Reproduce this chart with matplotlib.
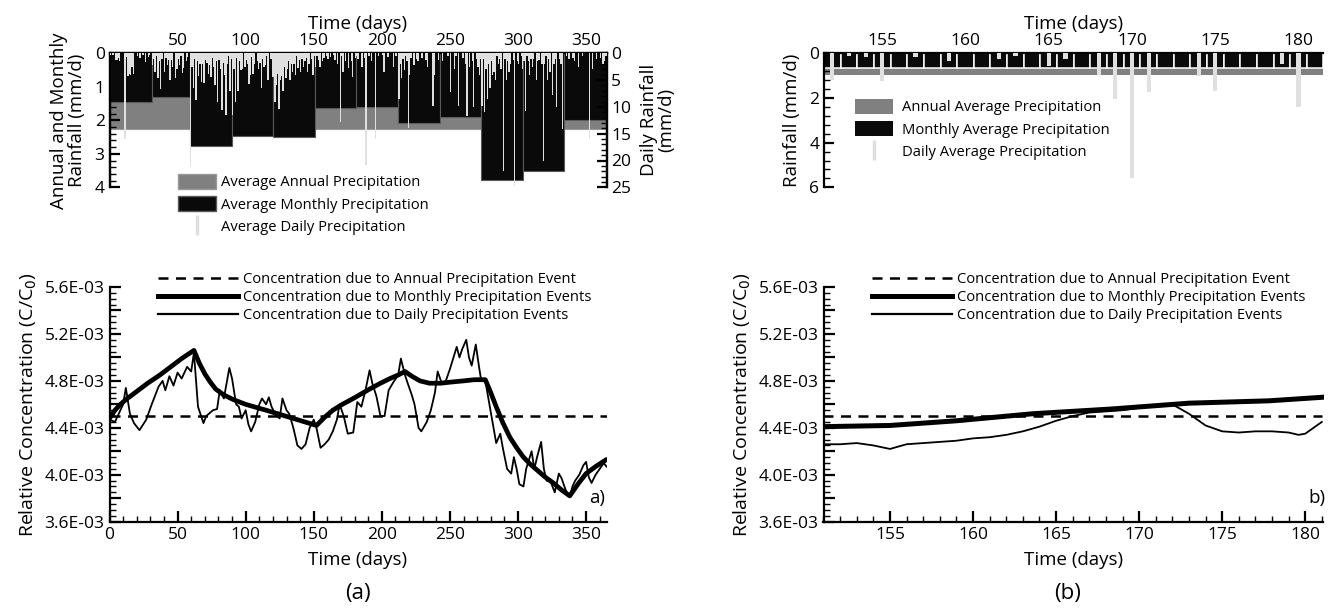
import matplotlib
matplotlib.use("Agg")
import matplotlib.pyplot as plt
from matplotlib.ticker import MultipleLocator, FuncFormatter
from matplotlib.patches import Patch
from matplotlib.lines import Line2D

plt.rcParams['font.family'] = ['Open Sans', 'DejaVu Sans']

# ---------------- (a) rainfall over the year ----------------
month_edges = [0, 31, 59, 90, 120, 151, 181, 212, 243, 273, 304, 334, 365]
monthly_rain = [1.44, 1.31, 2.76, 2.46, 2.49, 1.64, 1.61, 2.09, 1.91, 3.79, 3.50, 1.99]
annual_rain = 2.26

daily_jan = [0.3, 0, 0.4, 0, 1.2, 1.3, 0.8, 1.4, 0, 0, 0, 16.0, 0.6, 4.2, 3.8, 4.1, 2.5, 3.9, 0, 0,
             0.5, 0, 0.9, 0, 0.4, 0, 1.6, 0, 0.6, 0.3, 0]
daily_feb = [2.2, 1.0, 3.5, 0.5, 4.7, 1.5, 6.6, 1.0, 0, 3.5, 0.8, 2.2, 1.2, 5.0, 1.2, 2.5, 0, 4.7, 3.0, 1.0,
             2.2, 0.5, 3.7, 2.8, 0, 1.5, 0.6, 0]
daily_mar = [21.0, 2.5, 6.5, 1.0, 8.7, 1.5, 4.3, 2.0, 5.3, 2.0, 5.6, 1.2, 1.8, 3.8, 2.2, 4.5, 0.8, 2.5, 6.0, 1.5,
             9.0, 1.2, 3.0, 10.6, 1.8, 4.0, 11.5, 2.0, 0.5, 7.0, 1.0]
daily_apr = [11.5, 3.0, 9.0, 0.8, 7.0, 1.5, 3.2, 3.0, 0, 2.5, 1.2, 2.0, 5.8, 4.0, 0.6, 3.8, 2.0, 0, 1.5, 3.0,
             1.8, 6.4, 1.0, 2.5, 2.2, 0.5, 5.0, 0, 1.0, 4.5]
daily_may = [4.5, 9.0, 6.0, 3.8, 10.3, 5.0, 4.2, 7.0, 2.5, 4.6, 3.0, 1.5, 5.0, 2.0, 3.5, 2.0, 4.0, 0.5, 2.8, 1.2,
             3.5, 1.0, 2.5, 1.5, 0.8, 3.5, 2.0, 0, 1.0, 4.0, 0.5]
daily_jun = [2.5, 0.5, 1.2, 2.6, 0, 1.5, 0.8, 0, 0.5, 1.0, 0, 0.6, 0, 0.4, 1.2, 0, 2.0, 0, 12.8, 0.5,
             3.5, 0, 1.5, 0, 2.8, 0, 1.5, 4.5, 0, 0.8]
daily_jul = [0.5, 1.0, 0, 0, 2.5, 0, 0.8, 20.8, 0, 0.5, 0, 1.5, 0, 0, 16.0, 0, 0.5, 0, 0, 0.4,
             3.5, 0, 0, 0.6, 0, 0, 0, 2.5, 0, 0.5, 0]
daily_aug = [8.5, 2.0, 4.7, 1.0, 3.2, 0.5, 1.5, 13.9, 4.0, 0.8, 0, 2.2, 0, 1.0, 1.5, 0, 0, 0.8, 0, 0,
             1.2, 2.5, 0, 0, 0, 9.8, 4.0, 0, 0, 1.2, 0]
daily_sep = [0, 1.5, 0, 0, 0, 0.5, 0, 7.3, 0, 0, 3.0, 0.5, 0, 9.8, 0, 0, 0.8, 0, 2.0, 11.7,
             0, 2.5, 0, 1.5, 10.0, 0, 1.0, 2.5, 4.0, 1.0]
daily_oct = [9.8, 1.0, 11.0, 3.0, 8.5, 2.0, 6.5, 1.5, 4.0, 3.5, 5.0, 0.5, 2.0, 1.0, 3.0, 0, 22.0, 1.0, 5.0, 1.5,
             3.5, 2.0, 0, 1.2, 24.7, 0, 1.5, 2.0, 0, 0.5, 3.0]
daily_nov = [1.5, 10.8, 0.5, 1.5, 4.0, 1.0, 2.5, 1.0, 0, 5.0, 1.5, 1.2, 0, 2.0, 20.0, 2.0, 0.5, 5.0, 1.0, 3.5,
             0, 7.8, 2.0, 1.0, 10.0, 0, 1.0, 2.0, 14.2, 0]
daily_dec = [0, 0.5, 0, 1.0, 0, 0, 0.8, 1.5, 0, 0, 2.5, 0, 0, 0.5, 0, 0, 0, 0, 16.0, 0,
             3.0, 0, 0, 1.0, 0, 0, 0.8, 0, 2.0, 1.5, 0.5]

# ---------------- (a) concentration over the year (x 1E-03) ----------------
conc_daily_days = [0, 4, 10, 12, 15, 18, 22, 27, 31, 36, 39, 41, 44, 47, 50, 53, 57, 60, 62, 65,
                   69, 71, 73, 76, 79, 81, 84, 86, 88, 90, 93, 95, 97, 100, 102, 104, 107, 110, 112, 115,
                   117, 119, 122, 125, 127, 130, 132, 135, 138, 141, 144, 147, 150, 152, 155, 158, 161, 164, 167, 169,
                   172, 175, 179, 182, 185, 188, 191, 193, 196, 199, 202, 205, 208, 212, 214, 217, 219, 222, 224, 227,
                   229, 233, 236, 239, 241, 244, 247, 250, 255, 257, 259, 262, 264, 266, 269, 271, 273, 276, 279, 282,
                   284, 287, 289, 292, 295, 297, 299, 301, 304, 306, 310, 312, 314, 317, 319, 321, 324, 327, 330, 332,
                   335, 338, 340, 342, 345, 348, 350, 352, 354, 357, 360, 363, 365]
conc_daily = [4.47, 4.45, 4.60, 4.74, 4.52, 4.44, 4.38, 4.47, 4.60, 4.75, 4.80, 4.72, 4.84, 4.76, 4.87, 4.82, 4.92, 4.88, 5.04, 4.58,
              4.44, 4.50, 4.52, 4.55, 4.56, 4.72, 4.65, 4.78, 4.91, 4.82, 4.60, 4.58, 4.48, 4.55, 4.43, 4.37, 4.45, 4.60, 4.65, 4.60,
              4.66, 4.58, 4.51, 4.48, 4.65, 4.55, 4.52, 4.40, 4.25, 4.22, 4.26, 4.40, 4.47, 4.40, 4.23, 4.26, 4.30, 4.37, 4.47, 4.60,
              4.50, 4.35, 4.36, 4.62, 4.58, 4.72, 4.89, 4.78, 4.67, 4.50, 4.50, 4.72, 4.78, 4.85, 4.99, 4.85, 4.78, 4.68, 4.60, 4.40,
              4.37, 4.45, 4.55, 4.70, 4.88, 4.78, 4.80, 4.90, 5.09, 5.00, 5.07, 5.15, 5.00, 4.93, 5.11, 4.95, 4.80, 4.80, 4.60, 4.40,
              4.27, 4.35, 4.22, 4.05, 4.01, 4.15, 4.05, 3.92, 3.90, 4.05, 4.20, 4.05, 4.15, 4.28, 4.05, 3.95, 3.94, 3.85, 4.01, 3.97,
              3.87, 3.81, 3.90, 3.95, 4.00, 4.08, 4.11, 3.98, 3.93, 4.00, 4.05, 4.10, 4.07]

conc_monthly_days = [0, 4, 8, 12, 20, 28, 37, 45, 53, 62, 66, 70, 74, 78, 84, 91, 100, 115, 135, 152,
                     158, 164, 171, 179, 191, 199, 206, 212, 217, 222, 228, 235, 243, 251, 260, 268, 276, 280, 284, 289,
                     294, 299, 304, 309, 314, 320, 326, 332, 338, 344, 350, 357, 365]
conc_monthly = [4.48, 4.55, 4.60, 4.64, 4.71, 4.78, 4.85, 4.92, 4.99, 5.06, 4.95, 4.86, 4.79, 4.73, 4.68, 4.64, 4.60, 4.55, 4.48, 4.42,
                4.49, 4.55, 4.60, 4.65, 4.73, 4.78, 4.82, 4.85, 4.88, 4.84, 4.80, 4.78, 4.78, 4.79, 4.80, 4.81, 4.81, 4.70, 4.58, 4.44,
                4.32, 4.23, 4.15, 4.09, 4.04, 3.98, 3.93, 3.87, 3.82, 3.92, 4.01, 4.07, 4.13]
conc_annual = 4.50

# ---------------- (b) days 151-181 ----------------
days_b = list(range(151, 182))
rain_b_daily = [0, 1.2, 0.1, 0.15, 1.25, 0, 0.15, 0, 0.35, 0, 0, 0.25, 0.1, 0, 0.55, 0.25, 0, 0.97, 2.05, 5.6,
                1.75, 0, 0, 1.0, 1.7, 0, 0, 0, 0.5, 2.4, 0]
rain_b_monthly = 0.68
rain_b_annual = 0.97

conc_b_daily_days = [151, 152, 153, 154, 155, 156, 157, 158, 159, 160, 161, 162, 163, 164, 165, 166, 167, 168, 169, 170,
                     171, 172, 173, 174, 175, 176, 177, 178, 179, 179.6, 180, 181]
conc_b_daily = [4.26, 4.26, 4.27, 4.25, 4.22, 4.26, 4.27, 4.28, 4.29, 4.31, 4.32, 4.34, 4.37, 4.41, 4.46, 4.50, 4.53, 4.54, 4.55, 4.57,
                4.59, 4.60, 4.52, 4.42, 4.37, 4.36, 4.37, 4.37, 4.36, 4.34, 4.35, 4.45]
conc_b_monthly_days = [151, 155, 159, 163.6, 168.3, 173, 177.8, 181]
conc_b_monthly = [4.41, 4.42, 4.46, 4.52, 4.56, 4.61, 4.63, 4.66]
conc_b_annual = 4.50

# ---------------- styling ----------------
C_ANNUAL = '#808080'
C_MONTH = '#0a0a0a'
C_DAILY = '#e0e0e0'
W, H = 1332, 608
TICK_FS = 12.5
LAB_FS = 13.5
LEG_FS = 10.6


def rect(x0, x1, ytop, ybot):
    return [x0 / W, 1 - ybot / H, (x1 - x0) / W, (ybot - ytop) / H]


fig = plt.figure(figsize=(W / 100, H / 100), dpi=100)

ax_ra = fig.add_axes(rect(109.5, 606.5, 53.3, 187.3))
ax_ca = fig.add_axes(rect(109.5, 606.5, 287, 521.7))
ax_rb = fig.add_axes(rect(824, 1323.5, 53.3, 187.3))
ax_cb = fig.add_axes(rect(823.5, 1323.5, 287, 521.7))


def style_ticks(ax, axis, major, minor, maj_len=7, min_len=4):
    ax.tick_params(axis=axis, which='major', direction='in', length=maj_len, width=1.6, labelsize=TICK_FS)
    ax.tick_params(axis=axis, which='minor', direction='in', length=min_len, width=1.0)
    loc = ax.yaxis if axis == 'y' else ax.xaxis
    loc.set_major_locator(MultipleLocator(major))
    loc.set_minor_locator(MultipleLocator(minor))


# ---- (a) rainfall panel ----
ax_ra.bar(month_edges[-1] / 2, annual_rain, width=month_edges[-1], color=C_ANNUAL,
          edgecolor='#9a9a9a', linewidth=0.8, zorder=1)
centers = [(a + b) / 2 for a, b in zip(month_edges[:-1], month_edges[1:])]
widths = [b - a for a, b in zip(month_edges[:-1], month_edges[1:])]
ax_ra.bar(centers, monthly_rain, width=widths, color=C_MONTH, edgecolor='#5a5a5a', linewidth=0.8, zorder=2)
ax_ra.set_xlim(0, 365)
ax_ra.set_ylim(4, 0)
ax_ra.xaxis.tick_top()
ax_ra.xaxis.set_label_position('top')
ax_ra.set_xticks(range(50, 351, 50))
ax_ra.tick_params(axis='x', length=0, pad=3, labelsize=TICK_FS)
style_ticks(ax_ra, 'y', 1, 0.2)
ax_ra.set_xlabel('Time (days)', fontsize=LAB_FS, labelpad=3)
ax_ra.set_ylabel('Annual and Monthly\nRainfall (mm/d)', fontsize=LAB_FS, linespacing=1.0, labelpad=6)
ax_ra.spines['bottom'].set_visible(False)
for s in ('top', 'left', 'right'):
    ax_ra.spines[s].set_linewidth(1.6)

daily_rain = (daily_jan + daily_feb + daily_mar + daily_apr + daily_may + daily_jun +
              daily_jul + daily_aug + daily_sep + daily_oct + daily_nov + daily_dec)
ax_rd = ax_ra.twinx()
ax_rd.bar([d + 0.5 for d in range(len(daily_rain))], daily_rain, width=1.0, color=C_DAILY, zorder=3)
ax_rd.set_ylim(25, 0)
style_ticks(ax_rd, 'y', 5, 1)
ax_rd.set_ylabel('Daily Rainfall\n(mm/d)', fontsize=LAB_FS, linespacing=1.0, labelpad=6)
ax_rd.spines['bottom'].set_visible(False)
for s in ('top', 'left', 'right'):
    ax_rd.spines[s].set_linewidth(1.6)

fig.legend([Patch(facecolor=C_ANNUAL, edgecolor='#9a9a9a'),
            Patch(facecolor=C_MONTH, edgecolor='#5a5a5a'),
            Line2D([], [], color=C_DAILY, marker='|', markersize=15, markeredgewidth=2.5, linestyle='None')],
           ['Average Annual Precipitation', 'Average Monthly Precipitation', 'Average Daily Precipitation'],
           loc='upper left', bbox_to_anchor=(178 / W, 1 - 174 / H), frameon=False, fontsize=LEG_FS,
           handlelength=2.6, handleheight=1.15, handletextpad=0.35, labelspacing=0.42,
           borderpad=0, borderaxespad=0)

# ---- concentration axes helper ----
def sci_fmt(v, pos):
    k = round(v * 5000)
    return f'{v:.1E}' if k % 2 == 0 else ''


def style_conc(ax):
    ax.set_ylim(3.6e-3, 5.6e-3)
    ax.yaxis.set_major_locator(MultipleLocator(0.2e-3))
    ax.yaxis.set_minor_locator(MultipleLocator(0.05e-3))
    ax.yaxis.set_major_formatter(FuncFormatter(sci_fmt))
    ax.tick_params(which='major', direction='in', length=8, width=1.6, labelsize=TICK_FS)
    ax.tick_params(which='minor', direction='in', length=4, width=1.0)
    ax.spines['top'].set_visible(False)
    ax.spines['right'].set_visible(False)
    for s in ('left', 'bottom'):
        ax.spines[s].set_linewidth(1.6)
    ax.set_xlabel('Time (days)', fontsize=LAB_FS, labelpad=6)
    ax.set_ylabel('Relative Concentration (C/C$_0$)', fontsize=14, labelpad=4)


# ---- (a) concentration panel ----
ax_ca.plot([0, 365], [conc_annual * 1e-3] * 2, color='black', lw=1.8, dashes=(4, 3))
ax_ca.plot(conc_monthly_days, [v * 1e-3 for v in conc_monthly], color='black', lw=3.4,
           solid_joinstyle='round', solid_capstyle='round')
ax_ca.plot(conc_daily_days, [v * 1e-3 for v in conc_daily], color='black', lw=1.3)
ax_ca.set_xlim(0, 365)
ax_ca.xaxis.set_major_locator(MultipleLocator(50))
ax_ca.xaxis.set_minor_locator(MultipleLocator(10))
style_conc(ax_ca)
ax_ca.text(352, 3.80e-3, 'a)', fontsize=13.5, va='center')

conc_handles = [Line2D([], [], color='black', lw=1.8, dashes=(4, 3)),
                Line2D([], [], color='black', lw=3.6),
                Line2D([], [], color='black', lw=1.6)]
conc_labels = ['Concentration due to Annual Precipitation Event',
               'Concentration due to Monthly Precipitation Events',
               'Concentration due to Daily Precipitation Events']
leg_kw = dict(loc='upper left', frameon=False, fontsize=LEG_FS, handlelength=5.4, handletextpad=0.35,
              labelspacing=0.22, borderpad=0, borderaxespad=0)
fig.legend(conc_handles, conc_labels, bbox_to_anchor=(158 / W, 1 - 272 / H), **leg_kw)

# ---- (b) rainfall panel ----
ax_rb.bar((days_b[0] + days_b[-1]) / 2, rain_b_annual, width=len(days_b), color=C_ANNUAL, zorder=1)
ax_rb.bar(days_b, [rain_b_monthly] * len(days_b), width=1.0, color=C_MONTH, edgecolor='white', linewidth=1.1, zorder=2)
ax_rb.bar(days_b, rain_b_daily, width=0.25, color=C_DAILY, zorder=3)
ax_rb.set_xlim(151.5, 181.5)
ax_rb.set_ylim(6, 0)
ax_rb.xaxis.tick_top()
ax_rb.xaxis.set_label_position('top')
ax_rb.set_xticks(range(155, 181, 5))
ax_rb.tick_params(axis='x', length=0, pad=3, labelsize=TICK_FS)
style_ticks(ax_rb, 'y', 2, 0.4)
ax_rb.set_xlabel('Time (days)', fontsize=LAB_FS, labelpad=3)
ax_rb.set_ylabel('Rainfall (mm/d)', fontsize=LAB_FS, labelpad=6)
ax_rb.spines['bottom'].set_visible(False)
ax_rb.spines['right'].set_visible(False)
for s in ('top', 'left'):
    ax_rb.spines[s].set_linewidth(1.6)

fig.legend([Patch(facecolor=C_ANNUAL), Patch(facecolor=C_MONTH),
            Line2D([], [], color=C_DAILY, marker='|', markersize=15, markeredgewidth=2.5, linestyle='None')],
           ['Annual Average Precipitation', 'Monthly Average Precipitation', 'Daily Average Precipitation'],
           loc='upper left', bbox_to_anchor=(855 / W, 1 - 99 / H), frameon=False, fontsize=LEG_FS,
           handlelength=2.6, handleheight=1.15, handletextpad=0.6, labelspacing=0.42,
           borderpad=0, borderaxespad=0)

# ---- (b) concentration panel ----
ax_cb.plot([days_b[0], days_b[-1]], [conc_b_annual * 1e-3] * 2, color='black', lw=1.8, dashes=(4, 3))
ax_cb.plot(conc_b_monthly_days, [v * 1e-3 for v in conc_b_monthly], color='black', lw=3.6)
ax_cb.plot(conc_b_daily_days, [v * 1e-3 for v in conc_b_daily], color='black', lw=1.3)
ax_cb.set_xlim(151, 181.1)
ax_cb.xaxis.set_major_locator(MultipleLocator(5))
ax_cb.xaxis.set_minor_locator(MultipleLocator(1))
style_conc(ax_cb)
ax_cb.text(180.2, 3.80e-3, 'b)', fontsize=13.5, va='center')
fig.legend(conc_handles, conc_labels, bbox_to_anchor=(872 / W, 1 - 272 / H), **leg_kw)

# panel captions
fig.text(358 / W, 1 - 593 / H, '(a)', fontsize=16, ha='center', va='center')
fig.text(1068 / W, 1 - 593 / H, '(b)', fontsize=16, ha='center', va='center')

fig.savefig('out.png', dpi=100)
